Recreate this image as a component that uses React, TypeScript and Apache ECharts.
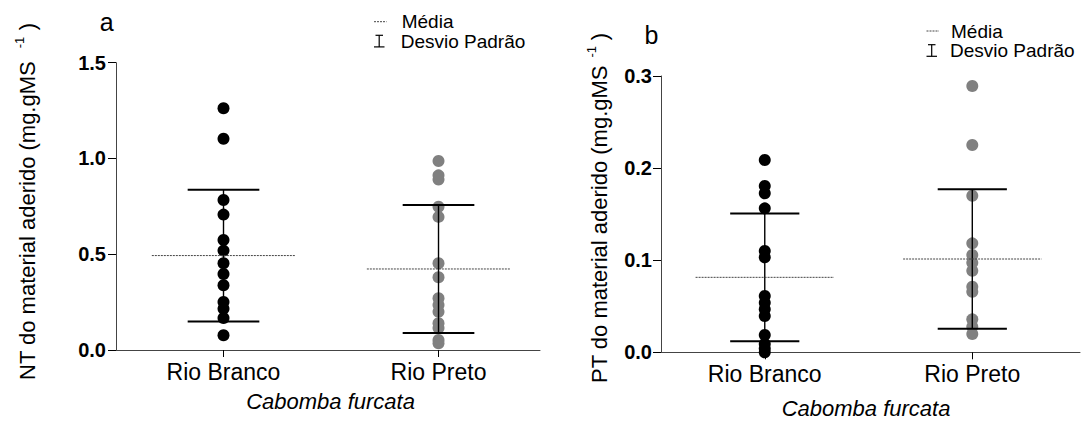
import React, { useEffect, useRef } from "react";
import * as echarts from "echarts";

const FONT = "'Liberation Sans', Arial, Helvetica, sans-serif";

// Categories (x axis) and titles
const categories = ["Rio Branco", "Rio Preto"];
const xTitle = "Cabomba furcata";

// Panel a: NT (mg.gMS-1)
const ntRioBranco = [1.262, 1.103, 0.783, 0.707, 0.574, 0.519, 0.453, 0.397, 0.338, 0.251, 0.216, 0.167, 0.077];
const ntRioPreto = [0.987, 0.912, 0.89, 0.748, 0.695, 0.453, 0.38, 0.27, 0.235, 0.2, 0.14, 0.115, 0.052, 0.035];
const ntMean = [0.493, 0.423];
const ntSD = [0.344, 0.334];
const ntAxis = { min: 0, max: 1.5, interval: 0.5 };

// Panel b: PT (mg.gMS-1)
const ptRioBranco = [0.2088, 0.1806, 0.1726, 0.1563, 0.11, 0.1031, 0.0611, 0.0539, 0.0467, 0.0394, 0.0188, 0.009, 0.004, 0.0];
const ptRioPreto = [0.2891, 0.2251, 0.17, 0.1183, 0.1056, 0.0973, 0.0886, 0.0712, 0.0658, 0.0358, 0.0278, 0.0199];
const ptMean = [0.0814, 0.1013];
const ptSD = [0.0694, 0.0757];
const ptAxis = { min: 0, max: 0.3, interval: 0.1 };

const legendMean = "Média";
const legendSD = "Desvio Padrão";

const BLACK = "#000000";
const GRAY = "#808080";

function mkX(gi: number, max: number) {
  return {
    type: "value",
    gridIndex: gi,
    min: -0.5,
    max,
    splitLine: { show: false },
    axisLine: { show: true, onZero: false, lineStyle: { color: "#444", width: 1 } },
    axisTick: { show: true, customValues: [0, 1], length: 7, lineStyle: { color: "#000", width: 1 } },
    axisLabel: {
      customValues: [0, 1],
      formatter: (v: number) => categories[Math.round(v)] ?? "",
      fontSize: 23,
      color: "#000",
      fontFamily: FONT,
      margin: 10,
    },
  };
}

function mkY(gi: number, ax: { min: number; max: number; interval: number }, margin: number) {
  return {
    type: "value",
    gridIndex: gi,
    min: ax.min,
    max: ax.max,
    interval: ax.interval,
    splitLine: { show: false },
    axisLine: { show: true, onZero: false, lineStyle: { color: "#444", width: 1 } },
    axisTick: { show: true, length: 8, lineStyle: { color: "#000", width: 1 } },
    axisLabel: {
      formatter: (v: number) => v.toFixed(1),
      fontSize: 20,
      fontWeight: "bold",
      color: "#000",
      fontFamily: FONT,
      margin,
    },
  };
}

function errData(mean: number[], sd: number[]) {
  return mean.map((m, i) => [i, m, m - sd[i], m + sd[i]]);
}

const renderErr = (params: any, api: any) => {
  const x = api.value(0);
  const mean = api.value(1);
  const lo = api.value(2);
  const hi = api.value(3);
  const ml = api.coord([x - 1 / 3, mean]);
  const mr = api.coord([x + 1 / 3, mean]);
  const top = api.coord([x, hi]);
  const bot = api.coord([x, lo]);
  const capL = api.coord([x - 1 / 6, hi])[0];
  const capR = api.coord([x + 1 / 6, hi])[0];
  return {
    type: "group",
    children: [
      { type: "line", shape: { x1: top[0], y1: top[1], x2: bot[0], y2: bot[1] }, style: { stroke: "#000", lineWidth: 1.4 } },
      { type: "line", shape: { x1: capL, y1: top[1], x2: capR, y2: top[1] }, style: { stroke: "#000", lineWidth: 2 } },
      { type: "line", shape: { x1: capL, y1: bot[1], x2: capR, y2: bot[1] }, style: { stroke: "#000", lineWidth: 2 } },
      { type: "line", shape: { x1: ml[0], y1: ml[1], x2: mr[0], y2: mr[1] }, style: { stroke: "#444", lineWidth: 1, lineDash: [2, 1] } },
    ],
  };
};

function scatter(gi: number, idx: number, vals: number[], color: string) {
  return {
    type: "scatter",
    xAxisIndex: gi,
    yAxisIndex: gi,
    data: vals.map((v) => [idx, v]),
    symbol: "circle",
    symbolSize: 12,
    itemStyle: { color, opacity: 1 },
    clip: false,
    z: 2,
  };
}

function errSeries(gi: number, mean: number[], sd: number[]) {
  return {
    type: "custom",
    xAxisIndex: gi,
    yAxisIndex: gi,
    data: errData(mean, sd),
    renderItem: renderErr,
    clip: false,
    z: 5,
  };
}

function txt(x: number, y: number, text: string, extra: any = {}, rotation = 0) {
  return {
    type: "text",
    x,
    y,
    rotation,
    style: {
      text,
      fontFamily: FONT,
      fontSize: 22,
      fill: "#000",
      align: "center",
      verticalAlign: "middle",
      ...extra,
    },
  };
}

function ln(x1: number, y1: number, x2: number, y2: number, style: any) {
  return { type: "line", shape: { x1, y1, x2, y2 }, style: { stroke: "#000", lineWidth: 1, ...style } };
}

function legend(lx: number, ly1: number, ly2: number, textX: number) {
  return [
    ln(lx, ly1, lx + 12.5, ly1, { stroke: "#444", lineDash: [2, 1] }),
    txt(textX + 1, ly1, legendMean, { fontSize: 19, lineHeight: 17, align: "left" }),
    ln(lx + 5.2, ly2 - 5.8, lx + 5.2, ly2 + 5.8, { lineWidth: 1.2 }),
    ln(lx + 1.5, ly2 - 5.8, lx + 9, ly2 - 5.8, { lineWidth: 1.2 }),
    ln(lx, ly2 + 5.8, lx + 10.5, ly2 + 5.8, { lineWidth: 1.2 }),
    txt(textX, ly2 + 0.3, legendSD, { fontSize: 19, lineHeight: 17, align: "left" }),
  ];
}

export default function App() {
  const ref = useRef<HTMLDivElement>(null);
  useEffect(() => {
    document.body.style.margin = "0";
    if (!ref.current) return;
    const chart = echarts.init(ref.current, undefined, { renderer: "svg" });
    const option: any = {
      animation: false,
      backgroundColor: "#ffffff",
      textStyle: { fontFamily: FONT },
      grid: [
        { left: 116, top: 62.7, width: 424, height: 287.3 },
        { left: 661, top: 76, width: 419, height: 276.3 },
      ],
      xAxis: [mkX(0, 1.472), mkX(1, 1.519)],
      yAxis: [mkY(0, ntAxis, 10), mkY(1, ptAxis, 9)],
      series: [
        scatter(0, 0, ntRioBranco, BLACK),
        scatter(0, 1, ntRioPreto, GRAY),
        errSeries(0, ntMean, ntSD),
        scatter(1, 0, ptRioBranco, BLACK),
        scatter(1, 1, ptRioPreto, GRAY),
        errSeries(1, ptMean, ptSD),
      ],
      graphic: [
        // panel letters
        txt(106.7, 21.5, "a", { fontSize: 25 }),
        txt(651.5, 34.5, "b", { fontSize: 25 }),
        // y titles panel a
        txt(27.5, 380, "NT do material aderido (mg.gMS", { align: "left" }, Math.PI / 2),
        txt(19, 42.5, "-1", { fontSize: 13 }, Math.PI / 2),
        txt(27.5, 26.7, ")", {}, Math.PI / 2),
        // y titles panel b
        txt(599, 383, "PT do material aderido (mg.gMS", { align: "left" }, Math.PI / 2),
        txt(591.5, 51.7, "-1", { fontSize: 13 }, Math.PI / 2),
        txt(599, 36.7, ")", {}, Math.PI / 2),
        // x titles
        txt(330.5, 401, xTitle, { fontStyle: "italic" }),
        txt(866, 408.5, xTitle, { fontStyle: "italic" }),
        // legends
        ...legend(374, 21.7, 41.1, 400.7),
        ...legend(926.5, 31, 50.5, 950),
      ],
    };
    chart.setOption(option);
    return () => chart.dispose();
  }, []);
  return <div ref={ref} style={{ width: 1081, height: 421 }} />;
}
